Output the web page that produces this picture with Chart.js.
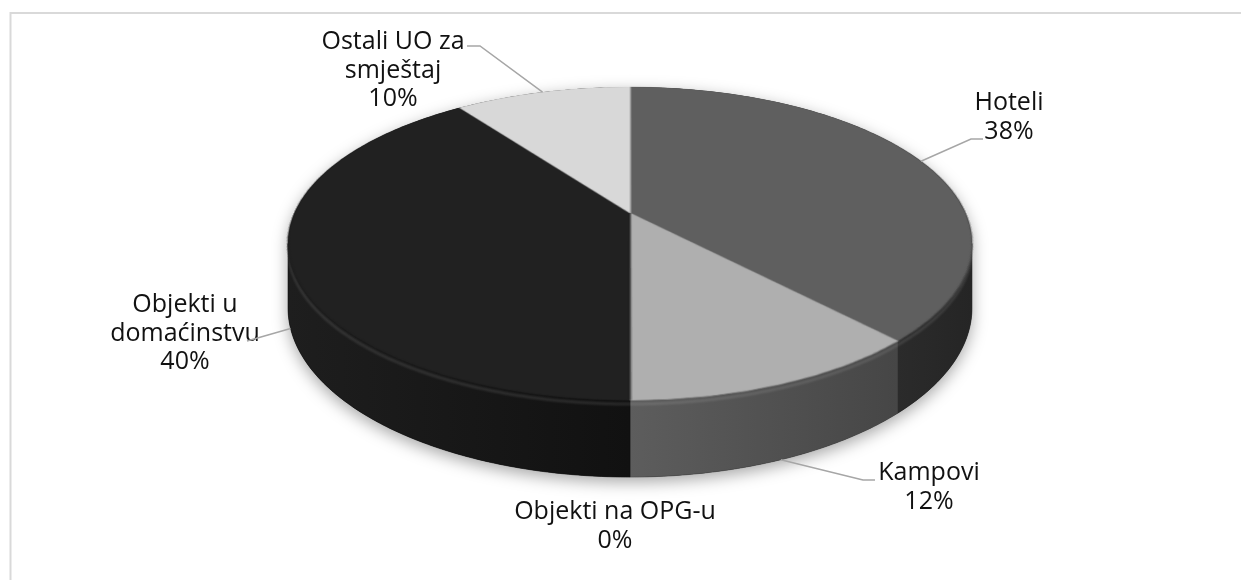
<!DOCTYPE html>
<html><head><meta charset="utf-8">
<script src="https://cdn.jsdelivr.net/npm/chart.js@4"></script>
<style>html,body{margin:0;padding:0;background:#fff}canvas{display:block}</style>
</head><body>
<canvas id="c" width="1241" height="580"></canvas>
<script>
// ---- data ----
const categories = [['Hoteli'], ['Kampovi'], ['Objekti na OPG-u'], ['Objekti u', 'domaćinstvu'], ['Ostali UO za', 'smještaj']];
const shares = [38, 12, 0, 40, 10];

// ---- styles ----
const topColors = ['#5f5f5f', '#afafaf', '#8c8c8c', '#212121', '#d8d8d8'];
const sideColors = [['#2b2b2b', '#252525'], ['#5d5d5d', '#464646'], ['#555555', '#444444'], ['#1e1e1e', '#111111'], ['#bbbbbb', '#a0a0a0']];

// perspective projection of the pie plane
const P = { cx: 630, cy: 213, A: 150.6, c: -0.1949, Rk: 335.4, D: 62 };
function proj(u, v) { const d = 1 + P.c * v; return [P.cx + P.Rk * u / d, P.cy + P.A * v / d]; }
function depth(v) { return P.D / (1 + P.c * v); }

// label layout (positions of the text blocks and leader elbows)
const labelLayout = [
  { x: 1009, y: 103, leader: [[983, 139], [971, 139]], attach: 'top' },
  { x: 929, y: 473, leader: [[875, 480], [863, 480]], attach: 'wall' },
  { x: 615, y: 512, leader: null },
  { x: 185, y: 305, leader: [[247, 341]], attach: 'wall' },
  { x: 393, y: 42, leader: [[467, 46], [480, 46]], attach: 'top' }
];
const LINE_H = 28.5;
const FONT = '25px "Open Sans", "Noto Sans", sans-serif';

const pie3d = {
  id: 'pie3d',
  beforeDraw(chart) {
    const ctx = chart.ctx;
    ctx.save();
    ctx.strokeStyle = '#d9d9d9';
    ctx.lineWidth = 2;
    ctx.beginPath();
    ctx.moveTo(10.5, 580); ctx.lineTo(10.5, 13); ctx.lineTo(1241, 13);
    ctx.stroke();
    ctx.restore();
  },
  afterDraw(chart) {
    const ctx = chart.ctx;
    const arcs = chart.getDatasetMeta(0).data;
    const sx = arcs[0].x, sy = arcs[0].y, R = arcs[0].outerRadius + 1;
    const M = 4, S = Math.ceil(2 * R + 2 * M);
    const off = document.createElement('canvas');
    off.width = S; off.height = S;
    const octx = off.getContext('2d');
    octx.drawImage(chart.canvas, sx - R - M, sy - R - M, S, S, 0, 0, S, S);
    ctx.clearRect(sx - R - M, sy - R - M, S, S);

    const aR = Math.asin(-P.c), aL = Math.PI - aR;
    const N = 240;
    const topPt = a => proj(Math.cos(a), Math.sin(a));
    const botPt = a => { const p = topPt(a); return [p[0], p[1] + depth(Math.sin(a))]; };

    // shadow of the silhouette
    ctx.save();
    ctx.beginPath();
    for (let k = 0; k <= N; k++) { const a = aR + (aL - aR) * k / N; const p = botPt(a); k ? ctx.lineTo(p[0], p[1]) : ctx.moveTo(p[0], p[1]); }
    for (let k = 0; k <= N; k++) { const a = aL + (2 * Math.PI + aR - aL) * k / N; const p = topPt(a); ctx.lineTo(p[0], p[1]); }
    ctx.closePath();
    ctx.shadowColor = 'rgba(0,0,0,0.35)';
    ctx.shadowBlur = 16;
    ctx.shadowOffsetY = 5;
    ctx.fillStyle = '#1a1a1a';
    ctx.fill();
    ctx.restore();

    // side walls
    arcs.forEach((arc, i) => {
      const s = Math.max(arc.startAngle, aR), e = Math.min(arc.endAngle, aL);
      if (e <= s) return;
      const n = Math.max(8, Math.ceil((e - s) / (aL - aR) * N));
      ctx.beginPath();
      for (let k = 0; k <= n; k++) { const p = topPt(s + (e - s) * k / n); k ? ctx.lineTo(p[0], p[1]) : ctx.moveTo(p[0], p[1]); }
      for (let k = n; k >= 0; k--) { const p = botPt(s + (e - s) * k / n); ctx.lineTo(p[0], p[1]); }
      ctx.closePath();
      const xl = topPt(e)[0], xr = topPt(s)[0];
      const g = ctx.createLinearGradient(xl, 0, xr, 0);
      g.addColorStop(0, sideColors[i][0]);
      g.addColorStop(1, sideColors[i][1]);
      ctx.fillStyle = g;
      ctx.fill();
      ctx.strokeStyle = sideColors[i][1];
      ctx.lineWidth = 0.6;
      ctx.stroke();
    });

    // rim highlight
    ctx.save();
    ctx.beginPath();
    for (let k = 0; k <= N; k++) { const a = aR + (aL - aR) * k / N; const p = topPt(a); k ? ctx.lineTo(p[0], p[1] + 4) : ctx.moveTo(p[0], p[1] + 4); }
    ctx.strokeStyle = 'rgba(255,255,255,0.12)';
    ctx.lineWidth = 2.5;
    ctx.filter = 'blur(1px)';
    ctx.stroke();
    ctx.restore();

    // top surface: the library-drawn pie warped row by row into perspective
    ctx.save();
    ctx.imageSmoothingEnabled = true;
    const yTop = Math.floor(proj(0, -1)[1]), yBot = Math.ceil(proj(0, 1)[1]);
    const oc = R + M;
    for (let Y = yTop; Y <= yBot; Y++) {
      const t = Y + 0.5 - P.cy;
      const v = t / (P.A - P.c * t);
      if (v < -1.01 || v > 1.01) continue;
      const d = 1 + P.c * v;
      const W = 2 * P.Rk * (R / (R - 1)) / d;
      const dvdt = P.A / Math.pow(P.A - P.c * t, 2);
      const srcH = Math.max((R - 1) * dvdt, 0.6);
      const srcY = oc + (R - 1) * v - srcH / 2;
      ctx.drawImage(off, M, srcY, 2 * R, srcH, P.cx - W / 2, Y, W, 1);
    }
    ctx.restore();

    // labels and leader lines
    ctx.save();
    ctx.font = FONT;
    ctx.fillStyle = '#111111';
    ctx.textAlign = 'center';
    ctx.textBaseline = 'middle';
    ctx.strokeStyle = '#a6a6a6';
    ctx.lineWidth = 1.5;
    arcs.forEach((arc, i) => {
      const L = labelLayout[i];
      const lines = categories[i].concat([shares[i] + '%']);
      lines.forEach((ln, k) => ctx.fillText(ln, L.x, L.y + k * LINE_H));
      if (L.leader) {
        const am = (arc.startAngle + arc.endAngle) / 2;
        let p = topPt(am);
        if (L.attach === 'wall') p = [p[0], p[1] + depth(Math.sin(am))];
        ctx.beginPath();
        ctx.moveTo(L.leader[0][0], L.leader[0][1]);
        for (let k = 1; k < L.leader.length; k++) ctx.lineTo(L.leader[k][0], L.leader[k][1]);
        ctx.lineTo(p[0], p[1]);
        ctx.stroke();
      }
    });
    ctx.restore();
  }
};

new Chart(document.getElementById('c'), {
  type: 'pie',
  data: {
    labels: categories,
    datasets: [{ data: shares, backgroundColor: topColors, borderColor: topColors, borderWidth: 1, hoverOffset: 0 }]
  },
  options: {
    responsive: false,
    animation: false,
    devicePixelRatio: 1,
    events: [],
    layout: { padding: { left: 360, right: 341, top: 25, bottom: 15 } },
    plugins: { legend: { display: false }, tooltip: { enabled: false } }
  },
  plugins: [pie3d]
});
</script>
</body></html>
